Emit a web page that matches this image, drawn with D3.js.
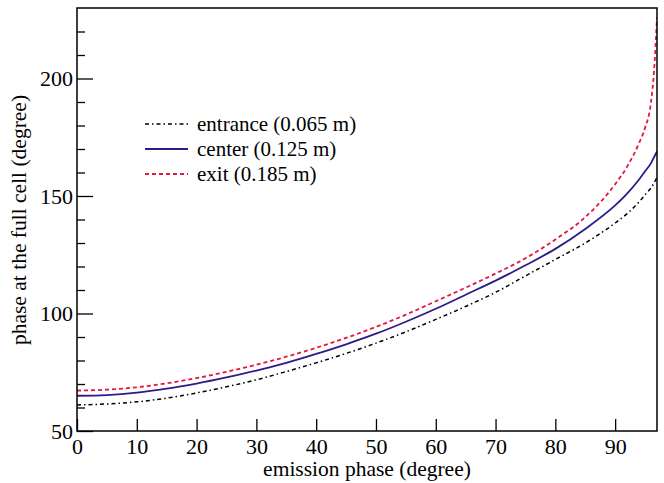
<!DOCTYPE html>
<html>
<head>
<meta charset="utf-8">
<script src="https://cdn.jsdelivr.net/npm/d3@7"></script>
<style>
    body { margin: 0; background: #fff; }
    svg { display: block; }
    svg text { font-family: 'Liberation Serif', 'Times New Roman', serif; fill: #000; }
</style>
</head>
<body>
<svg id="chart" width="664" height="483"></svg>
<script>
// values
const phases = [ 0, 5, 10, 15, 20, 25, 30, 35, 40, 45, 50, 55, 60, 65, 70, 75, 80, 85, 90, 92, 94, 95, 96, 96.5, 97 ];
const entrance = [ 61.1, 61.5, 62.4, 64.0, 66.2, 68.8, 71.8, 75.3, 79.0, 83.0, 87.4, 92.2, 97.5, 103.0, 109.0, 116.0, 123.0, 130.0, 138.5, 142.5, 147.5, 150.5, 153.5, 155.5, 158.0 ];
const center = [ 65.0, 65.3, 66.3, 68.0, 70.2, 72.8, 75.7, 79.0, 82.8, 86.9, 91.4, 96.5, 102.0, 108.0, 114.0, 120.5, 127.5, 136.0, 146.0, 151.0, 157.0, 160.5, 164.0, 166.5, 169.0 ];
const exit = [ 67.2, 67.6, 68.6, 70.3, 72.5, 75.2, 78.2, 81.6, 85.4, 89.6, 94.3, 99.5, 105.2, 111.0, 117.0, 123.5, 131.5, 141.0, 155.0, 162.5, 172.5, 179.0, 190.0, 203.0, 226.0 ];

const seriesNames = [ 'entrance (0.065 m)', 'center (0.125 m)', 'exit (0.185 m)' ];
const xTicks = [ 0, 10, 20, 30, 40, 50, 60, 70, 80, 90 ];
const yTicks = [ 50, 100, 150, 200 ];
const yMinor = [ 60, 70, 80, 90, 110, 120, 130, 140, 160, 170, 180, 190, 210, 220 ];

const styles = [
    { color: '#000', dash: '4,3,1.5,3', width: 1.5 },
    { color: '#2f1a86', dash: null, width: 1.8 },
    { color: '#e3163f', dash: '4,3', width: 1.8 }
];

const svg = d3.select( '#chart' ),
    margin = { top: 8, right: 7, bottom: 52, left: 77 },
    width = 664 - margin.left - margin.right,
    height = 483 - margin.top - margin.bottom,
    g = svg.append( 'g' ).attr( 'transform', 'translate(' + margin.left + ',' + margin.top + ')' );

const x = d3.scaleLinear().domain( [ 0, 97 ] ).range( [ 0, width ] ),
    y = d3.scaleLinear().domain( [ 50, 230 ] ).range( [ height, 0 ] );

const line = d3.line()
    .curve( d3.curveMonotoneX )
    .x( d => x( d[ 0 ] ) )
    .y( d => y( d[ 1 ] ) );

g.append( 'clipPath' ).attr( 'id', 'clip' )
    .append( 'rect' ).attr( 'width', width ).attr( 'height', height );

[ entrance, center, exit ].forEach( ( s, i ) => {
    g.append( 'path' )
        .datum( phases.map( ( p, j ) => [ p, s[ j ] ] ) )
        .attr( 'clip-path', 'url(#clip)' )
        .attr( 'fill', 'none' )
        .attr( 'stroke', styles[ i ].color )
        .attr( 'stroke-width', styles[ i ].width )
        .attr( 'stroke-dasharray', styles[ i ].dash )
        .attr( 'd', line );
} );

// axes with inward ticks
const tidy = a => {
    a.attr( 'font-family', null ).attr( 'font-size', null );
    a.select( '.domain' ).remove();
};

g.append( 'g' )
    .attr( 'transform', 'translate(0,' + height + ')' )
    .call( d3.axisBottom( x ).tickValues( xTicks ).tickSize( -12 ).tickPadding( 7 ) )
    .call( tidy );

g.append( 'g' )
    .call( d3.axisLeft( y ).tickValues( yTicks ).tickSize( -16 ).tickPadding( 4 ) )
    .call( tidy );

g.append( 'g' )
    .call( d3.axisLeft( y ).tickValues( yMinor ).tickSize( -8 ).tickFormat( '' ) )
    .call( tidy );

g.selectAll( '.tick line' ).attr( 'stroke', '#000' ).attr( 'stroke-width', 1.3 );
g.selectAll( '.tick text' ).style( 'font-size', '22px' );

g.append( 'rect' )
    .attr( 'width', width ).attr( 'height', height )
    .attr( 'fill', 'none' ).attr( 'stroke', '#000' ).attr( 'stroke-width', 1.5 );

// axis titles
svg.append( 'text' )
    .attr( 'x', margin.left + width / 2 ).attr( 'y', 476 )
    .attr( 'text-anchor', 'middle' )
    .style( 'font-size', '21.5px' )
    .text( 'emission phase (degree)' );

svg.append( 'text' )
    .attr( 'transform', 'translate(26,220) rotate(-90)' )
    .attr( 'text-anchor', 'middle' )
    .style( 'font-size', '21.5px' )
    .text( 'phase at the full cell (degree)' );

// legend
const legend = svg.append( 'g' ).attr( 'transform', 'translate(145,124)' );
seriesNames.forEach( ( n, i ) => {
    let row = legend.append( 'g' ).attr( 'transform', 'translate(0,' + i * 25 + ')' );
    row.append( 'line' )
        .attr( 'x1', 0 ).attr( 'x2', 43 )
        .attr( 'stroke', styles[ i ].color )
        .attr( 'stroke-width', styles[ i ].width )
        .attr( 'stroke-dasharray', styles[ i ].dash );
    row.append( 'text' )
        .attr( 'x', 52 ).attr( 'y', 7 )
        .style( 'font-size', '21px' )
        .text( n );
} );
</script>
</body>
</html>
